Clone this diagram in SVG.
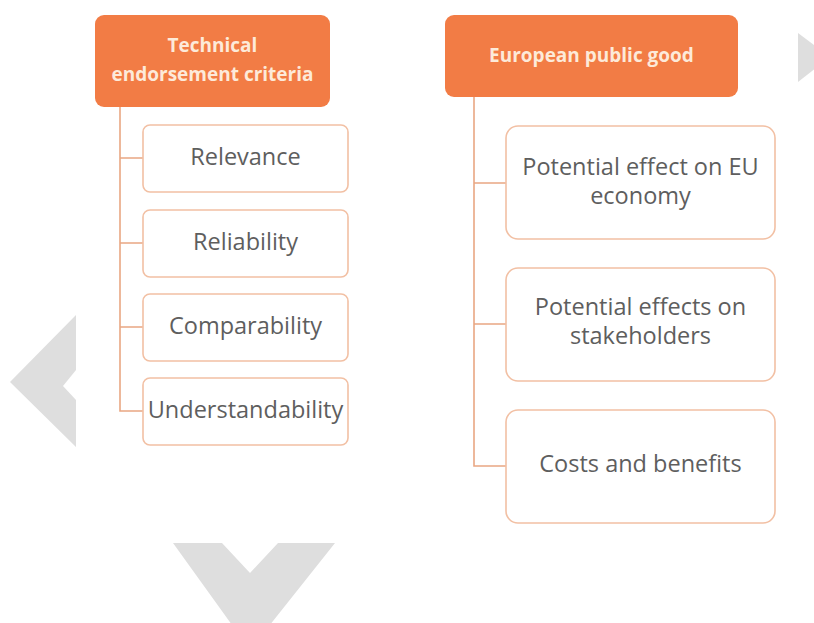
<svg xmlns="http://www.w3.org/2000/svg" width="814" height="623" viewBox="0 0 814 623">
<style>
.hdr{fill:#F27C45;}
.hdrt{fill:#FDEAD9;font-family:"Open Sans","Liberation Sans",Arial,sans-serif;font-weight:bold;font-size:19px;text-anchor:middle;}
.box{fill:#FFFFFF;stroke:#F2C0A4;stroke-width:1.6;}
.bt{fill:#5E5E5E;font-family:"Open Sans","Liberation Sans",Arial,sans-serif;font-size:23.5px;text-anchor:middle;}
.con{fill:none;stroke:#E9A783;stroke-width:1.6;}
.chev{fill:#DEDEDE;}
</style>
<rect width="814" height="623" fill="#FFFFFF"/>
<g id="decor">
<polygon class="chev" points="76,315 76,370 63,386 76,400 76,447 10,382"/>
<polygon class="chev" points="173,543 222,543 250,573 278,543 335,543 250,650"/>
<polygon class="chev" points="798,33 830,57 798,82"/>
</g>
<g id="connectors">
<path class="con" d="M120,107 V411 H143 M120,158 H143 M120,243 H143 M120,327 H143"/>
<path class="con" d="M474,97 V466 H506 M474,183 H506 M474,324 H506"/>
</g>
<g id="tech">
<rect class="hdr" x="95" y="15" width="235" height="92" rx="9"/>
<text class="hdrt" x="212.5" y="52">Technical</text>
<text class="hdrt" x="212.5" y="81">endorsement criteria</text>
</g>
<g id="relevance"><rect class="box" x="143" y="125" width="205" height="67" rx="7"/><text class="bt" x="245.5" y="165">Relevance</text></g>
<g id="reliability"><rect class="box" x="143" y="210" width="205" height="67" rx="7"/><text class="bt" x="245.5" y="250">Reliability</text></g>
<g id="comparability"><rect class="box" x="143" y="294" width="205" height="67" rx="7"/><text class="bt" x="245.5" y="334">Comparability</text></g>
<g id="understandability"><rect class="box" x="143" y="378" width="205" height="67" rx="7"/><text class="bt" x="245.5" y="418">Understandability</text></g>
<g id="epg">
<rect class="hdr" x="445" y="15" width="293" height="82" rx="9"/>
<text class="hdrt" x="591.5" y="62">European public good</text>
</g>
<g id="economy"><rect class="box" x="506" y="126" width="269" height="113" rx="12"/><text class="bt" x="640.5" y="175">Potential effect on EU</text><text class="bt" x="640.5" y="204">economy</text></g>
<g id="stakeholders"><rect class="box" x="506" y="268" width="269" height="113" rx="12"/><text class="bt" x="640.5" y="315">Potential effects on</text><text class="bt" x="640.5" y="344">stakeholders</text></g>
<g id="costs"><rect class="box" x="506" y="410" width="269" height="113" rx="12"/><text class="bt" x="640.5" y="472">Costs and benefits</text></g>
</svg>
